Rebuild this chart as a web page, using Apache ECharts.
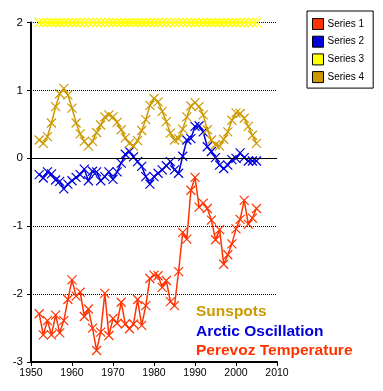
<!DOCTYPE html>
<html><head><meta charset="utf-8">
<script src="https://cdn.jsdelivr.net/npm/echarts@6/dist/echarts.min.js"></script>
<style>html,body{margin:0;padding:0;background:#fff}#c{width:383px;height:391px}</style>
</head><body><div id="c"></div>
<script>
var years = [1952,1953,1954,1955,1956,1957,1958,1959,1960,1961,1962,1963,1964,1965,1966,1967,1968,1969,1970,1971,1972,1973,1974,1975,1976,1977,1978,1979,1980,1981,1982,1983,1984,1985,1986,1987,1988,1989,1990,1991,1992,1993,1994,1995,1996,1997,1998,1999,2000,2001,2002,2003,2004,2005];
var series1 = [-2.29,-2.60,-2.39,-2.60,-2.31,-2.57,-2.39,-2.08,-1.79,-2.03,-1.97,-2.33,-2.22,-2.50,-2.83,-2.56,-1.99,-2.61,-2.36,-2.43,-2.12,-2.44,-2.51,-2.44,-2.08,-2.46,-2.17,-1.77,-1.72,-1.73,-1.90,-1.80,-2.11,-2.17,-1.67,-1.09,-1.19,-0.47,-0.28,-0.72,-0.66,-0.74,-0.91,-1.20,-1.05,-1.56,-1.42,-1.26,-1.04,-0.90,-0.62,-0.97,-0.88,-0.74];
var series2 = [-0.24,-0.29,-0.20,-0.23,-0.32,-0.34,-0.45,-0.38,-0.33,-0.28,-0.24,-0.16,-0.33,-0.19,-0.20,-0.33,-0.27,-0.20,-0.31,-0.20,-0.07,0.06,0.10,0.02,-0.05,-0.12,-0.27,-0.38,-0.27,-0.22,-0.17,-0.11,-0.05,-0.17,-0.22,0.03,0.27,0.29,0.47,0.48,0.39,0.17,0.10,0.01,-0.10,-0.15,-0.10,-0.02,0.00,0.08,0.01,-0.04,-0.04,-0.04];
var series3 = [2,2,2,2,2,2,2,2,2,2,2,2,2,2,2,2,2,2,2,2,2,2,2,2,2,2,2,2,2,2,2,2,2,2,2,2,2,2,2,2,2,2,2,2,2,2,2,2,2,2,2,2,2,2];
var series4 = [0.27,0.22,0.32,0.52,0.76,0.95,1.03,0.93,0.74,0.52,0.36,0.25,0.18,0.25,0.38,0.49,0.61,0.64,0.61,0.53,0.42,0.30,0.22,0.18,0.26,0.41,0.57,0.78,0.88,0.83,0.69,0.54,0.37,0.27,0.29,0.43,0.61,0.77,0.82,0.76,0.64,0.42,0.27,0.20,0.18,0.28,0.39,0.56,0.67,0.66,0.59,0.47,0.34,0.22];
var seriesNames = ['Series 1','Series 2','Series 3','Series 4'];
var seriesColors = ['#ff3300','#0000dd','#ffff00','#cc9900'];
var labelTexts = ['Sunspots','Arctic Oscillation','Perevoz Temperature'];
var labelColors = ['#cc9900','#0000dd','#ff3300'];
var xTicks = {min:1950, max:2010, interval:10};
var yTicks = {min:-3, max:2, interval:1};

function pairs(v){ return years.map(function(y,i){ return [y, v[i]]; }); }
var allValues = [series1, series2, series3, series4];
var X = 'path://M0,0L10,10M10,0L0,10';

var chart = echarts.init(document.getElementById('c'), null, {renderer:'canvas'});
var series = allValues.map(function(v, i){
  var s = {
    name: seriesNames[i], type:'line', data: pairs(v),
    symbol: X, symbolSize: 9, showSymbol: true,
    lineStyle: {color: seriesColors[i], width: 1.5},
    itemStyle: {color: seriesColors[i], borderColor: seriesColors[i], borderWidth: 1.2},
    animation: false, z: 3 + i
  };
  if (i === 0) {
    s.markLine = {silent:true, symbol:'none', label:{show:false}, animation:false,
      lineStyle:{color:'#000', type:'solid', width:1}, data:[{yAxis:0}]};
  }
  return s;
});

chart.setOption({
  animation: false,
  backgroundColor: '#fff',
  grid: {left:31, top:22.5, right:106, bottom:29, containLabel:false},
  xAxis: {type:'value', min:xTicks.min, max:xTicks.max, interval:xTicks.interval,
    axisLine:{show:true, onZero:false, lineStyle:{color:'#000', width:2}},
    axisTick:{show:true, inside:false, length:4, lineStyle:{color:'#000', width:1}},
    axisLabel:{color:'#000', fontSize:10.5, fontFamily:'Liberation Sans', margin:6,
      formatter:function(v){ return String(v); }},
    splitLine:{show:false}},
  yAxis: {type:'value', min:yTicks.min, max:yTicks.max, interval:yTicks.interval,
    axisLine:{show:true, lineStyle:{color:'#000', width:2}},
    axisTick:{show:true, inside:false, length:4, lineStyle:{color:'#000', width:1}},
    axisLabel:{color:'#000', fontSize:11.5, fontFamily:'Liberation Sans', margin:8},
    splitLine:{show:true, lineStyle:{color:'#000', type:[1,1], width:1}}},
  legend: {show:true, orient:'vertical', left:307, top:11, width:65,
    data: seriesNames, icon:'rect', itemWidth:11, itemHeight:11, itemGap:5.7,
    padding:[7,9,5,5], borderColor:'#000', borderWidth:1, backgroundColor:'#fff',
    itemStyle:{borderColor:'#000', borderWidth:1},
    textStyle:{color:'#000', fontSize:10, fontFamily:'Liberation Sans', padding:[0,0,0,-1]},
    selectedMode:false},
  graphic: labelTexts.map(function(t, i){
    return {type:'text', left:196, top:304 + i*19.5, z:50,
      style:{text:t, fill:labelColors[i], font:'bold 15.5px "Liberation Sans"'}};
  }),
  series: series
});
</script></body></html>
